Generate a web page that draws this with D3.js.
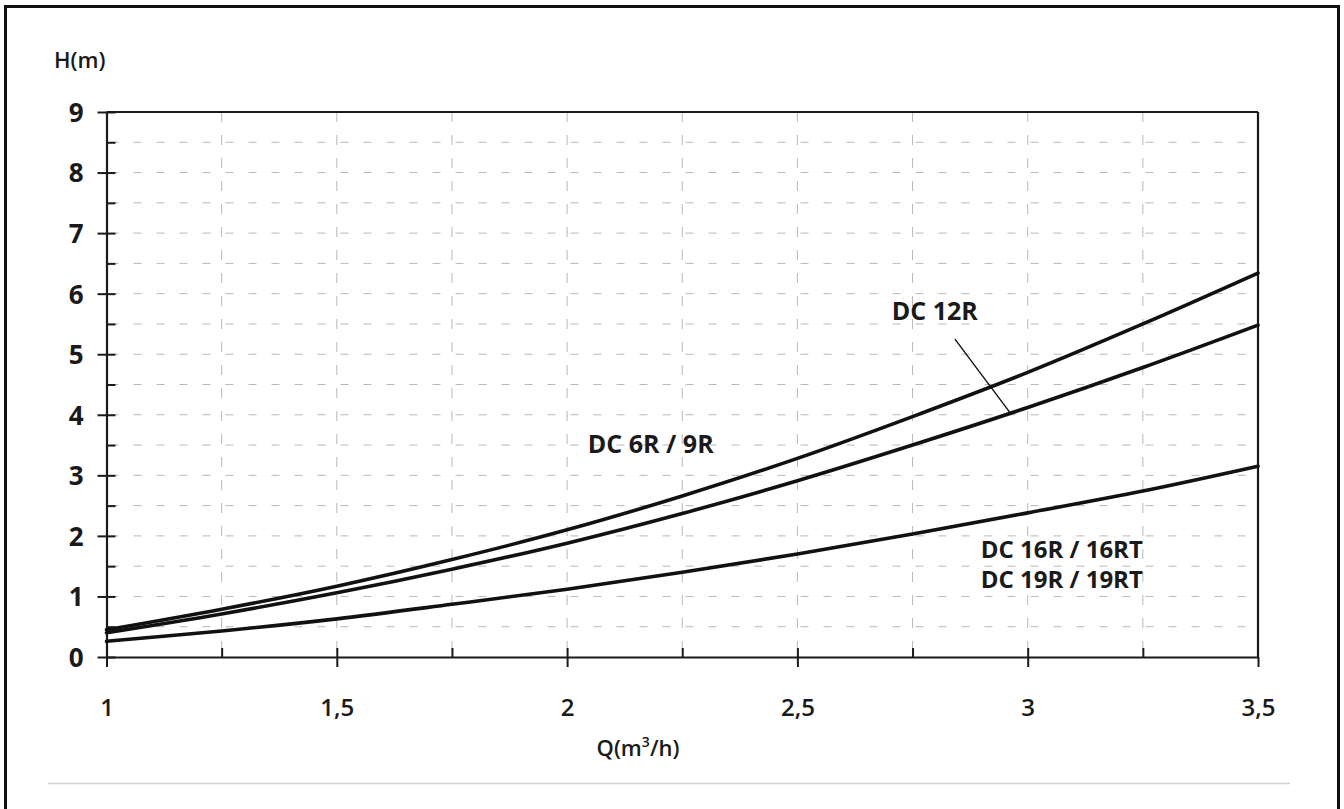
<!DOCTYPE html>
<html>
<head>
<meta charset="utf-8">
<script src="https://cdn.jsdelivr.net/npm/d3@7"></script>
<style>
  html, body { margin: 0; padding: 0; background: #ffffff; }
  svg { display: block; }
  text { font-family: "Open Sans", "DejaVu Sans", sans-serif; fill: #1a1a1a; }
</style>
</head>
<body>
<svg id="chart" width="1344" height="809"></svg>
<script>
// ---- Data ----
const flowQ = [1, 1.25, 1.5, 1.75, 2, 2.25, 2.5, 2.75, 3, 3.25, 3.5];
const headUpper  = [0.45, 0.79, 1.17, 1.61, 2.10, 2.66, 3.28, 3.97, 4.70, 5.50, 6.34];
const headMiddle = [0.40, 0.71, 1.06, 1.45, 1.88, 2.37, 2.91, 3.50, 4.12, 4.78, 5.48];
const headLower  = [0.26, 0.43, 0.63, 0.87, 1.12, 1.40, 1.70, 2.03, 2.38, 2.74, 3.15];

const xMajorTicks = [1, 1.5, 2, 2.5, 3, 3.5];
const xTickLabels = ["1", "1,5", "2", "2,5", "3", "3,5"];
const xMinorTicks = [1.25, 1.75, 2.25, 2.75, 3.25];
const yMajorTicks = [0, 1, 2, 3, 4, 5, 6, 7, 8, 9];
const yMinorTicks = [0.5, 1.5, 2.5, 3.5, 4.5, 5.5, 6.5, 7.5, 8.5];

const seriesNames = ["DC 6R / 9R", "DC 12R", "DC 16R / 16RT"];

// annotation anchors in data units (Q, H)
const labelDC6 = { q: 2.045, h: 3.37, text: "DC 6R / 9R" };
const labelDC12 = { q: 2.705, h: 5.57, text: "DC 12R" };
const labelDC16 = { q: 3.25, h: [1.64, 1.14], text: ["DC 16R / 16RT", "DC 19R / 19RT"] };
const leaderDC12 = [[2.842, 5.25], [2.964, 4.01]];

// ---- Layout ----
const svg = d3.select("#chart");
const x = d3.scaleLinear().domain([1, 3.5]).range([106.5, 1258]);
const y = d3.scaleLinear().domain([0, 9]).range([657, 112]);

// outer frame
svg.append("rect")
  .attr("x", 5.5).attr("y", 6.5).attr("width", 1333).attr("height", 815)
  .attr("fill", "none").attr("stroke", "#111").attr("stroke-width", 3);

// light separator line at bottom
svg.append("line")
  .attr("x1", 48).attr("x2", 1290).attr("y1", 783.5).attr("y2", 783.5)
  .attr("stroke", "#cfcfcf").attr("stroke-width", 1.5);

// ---- Grid ----
const grid = svg.append("g");
const hGrid = d3.range(1, 18).map(i => i * 0.5);
grid.selectAll("line.h").data(hGrid).join("line")
  .attr("class", "h")
  .attr("x1", x(1) + 4).attr("x2", x(3.5))
  .attr("y1", d => y(d)).attr("y2", d => y(d))
  .attr("stroke", "#b8b8b8").attr("stroke-width", 1)
  .attr("stroke-dasharray", "8,15");
const vGrid = [1.25, 1.5, 1.75, 2, 2.25, 2.5, 2.75, 3, 3.25];
grid.selectAll("line.v").data(vGrid).join("line")
  .attr("class", "v")
  .attr("x1", d => x(d)).attr("x2", d => x(d))
  .attr("y1", y(9)).attr("y2", y(0))
  .attr("stroke", "#b8b8b8").attr("stroke-width", 1)
  .attr("stroke-dasharray", "10,13");

// ---- Frame (top and right) ----
svg.append("line")
  .attr("x1", x(1)).attr("x2", x(3.5)).attr("y1", y(9)).attr("y2", y(9))
  .attr("stroke", "#1a1a1a").attr("stroke-width", 2.2);
svg.append("line")
  .attr("x1", x(3.5)).attr("x2", x(3.5)).attr("y1", y(9)).attr("y2", y(0))
  .attr("stroke", "#1a1a1a").attr("stroke-width", 2.2);

// ---- Axes ----
function styleAxis(g) {
  g.select(".domain").attr("stroke", "#1a1a1a").attr("stroke-width", 2.2);
  g.selectAll(".tick line").attr("stroke", "#1a1a1a").attr("stroke-width", 2);
}

// y major
const yAxisG = svg.append("g").attr("transform", `translate(${x(1)},0)`)
  .call(d3.axisLeft(y).tickValues(yMajorTicks).tickSize(9).tickSizeOuter(0).tickPadding(14))
  .call(styleAxis);
yAxisG.selectAll(".tick line").attr("x2", 9).attr("x1", -9);
yAxisG.selectAll(".tick text")
  .style("font-size", "26px").style("font-weight", 700)
  .attr("dy", "0.36em").attr("x", -23);
// y minor
svg.append("g").attr("transform", `translate(${x(1)},0)`)
  .call(d3.axisLeft(y).tickValues(yMinorTicks).tickSize(-9).tickSizeOuter(0).tickFormat(""))
  .call(styleAxis)
  .call(g => g.select(".domain").remove());

// x major
const xAxisG = svg.append("g").attr("transform", `translate(0,${y(0)})`)
  .call(d3.axisBottom(x).tickValues(xMajorTicks).tickSize(10).tickSizeOuter(0)
    .tickPadding(32).tickFormat((d, i) => xTickLabels[i]))
  .call(styleAxis);
xAxisG.selectAll(".tick line").attr("y1", d => (d === 1 || d === 3.5) ? 0 : -9);
xAxisG.selectAll(".tick text")
  .style("font-size", "24px").style("font-weight", 600);
// x minor
svg.append("g").attr("transform", `translate(0,${y(0)})`)
  .call(d3.axisBottom(x).tickValues(xMinorTicks).tickSize(-9).tickSizeOuter(0).tickFormat(""))
  .call(styleAxis)
  .call(g => g.select(".domain").remove());

// axis titles
svg.append("text").attr("x", 54).attr("y", 68)
  .style("font-size", "22px").style("font-weight", 600).text("H(m)");

const qTitle = svg.append("text").attr("x", 638).attr("y", 756)
  .attr("text-anchor", "middle")
  .style("font-size", "22px").style("font-weight", 600);
qTitle.append("tspan").text("Q(m");
qTitle.append("tspan").attr("dy", -9).style("font-size", "14px").text("3");
qTitle.append("tspan").attr("dy", 9).text("/h)");

// ---- Curves ----
const line = d3.line()
  .x((d, i) => x(flowQ[i]))
  .y(d => y(d))
  .curve(d3.curveCatmullRom.alpha(0.5));

[headUpper, headMiddle, headLower].forEach((s, k) => {
  svg.append("path").datum(s)
    .attr("d", line)
    .attr("fill", "none")
    .attr("stroke", "#111")
    .attr("stroke-width", 3.6)
    .attr("stroke-linejoin", "round")
    .attr("stroke-linecap", "round")
    .attr("data-series", seriesNames[k]);
});

// leader line for DC 12R
svg.append("line")
  .attr("x1", x(leaderDC12[0][0])).attr("y1", y(leaderDC12[0][1]))
  .attr("x2", x(leaderDC12[1][0])).attr("y2", y(leaderDC12[1][1]))
  .attr("stroke", "#111").attr("stroke-width", 1.4);

// ---- Curve labels ----
svg.append("text").attr("x", x(labelDC6.q)).attr("y", y(labelDC6.h))
  .style("font-size", "25px").style("font-weight", 700).text(labelDC6.text);
svg.append("text").attr("x", x(labelDC12.q)).attr("y", y(labelDC12.h))
  .style("font-size", "25px").style("font-weight", 700).text(labelDC12.text);
labelDC16.text.forEach((t, i) => {
  svg.append("text").attr("x", x(labelDC16.q)).attr("y", y(labelDC16.h[i]))
    .attr("text-anchor", "end")
    .style("font-size", "24px").style("font-weight", 700).text(t);
});
</script>
</body>
</html>
